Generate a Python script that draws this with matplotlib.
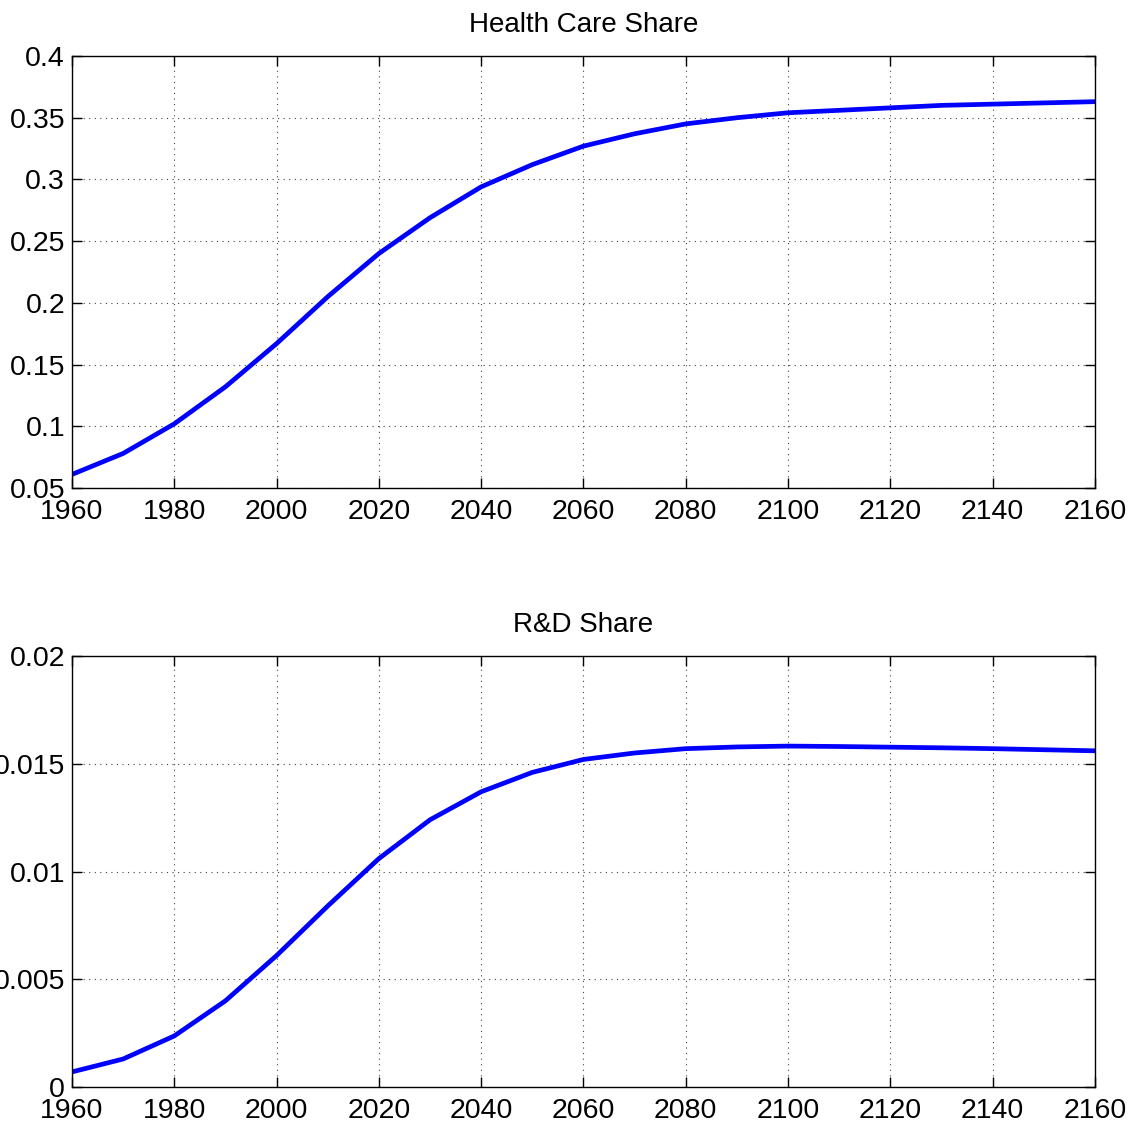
import numpy as np
import matplotlib.pyplot as plt

plt.rcParams['font.family'] = ['Liberation Sans', 'DejaVu Sans']

years = np.arange(1960, 2161, 10)
health_share = [0.061, 0.078, 0.102, 0.132, 0.167, 0.205, 0.240, 0.269, 0.294, 0.312,
                0.327, 0.337, 0.345, 0.350, 0.354, 0.356, 0.358, 0.360, 0.361, 0.362, 0.363]
rd_share = [0.0007, 0.0013, 0.00237, 0.0040, 0.0061, 0.0084, 0.0106, 0.0124, 0.0137, 0.0146,
            0.0152, 0.0155, 0.0157, 0.01578, 0.01582, 0.0158, 0.01577, 0.01574, 0.0157, 0.01565, 0.0156]

fig = plt.figure(figsize=(11.43, 11.26), dpi=100)
W, H = 1143, 1126
ax1 = fig.add_axes([72 / W, 1 - 488 / H, (1095 - 72) / W, (488 - 56) / H])
ax2 = fig.add_axes([72 / W, 1 - 1087 / H, (1095 - 72) / W, (1087 - 656) / H])


def style(ax, ylim, yticks, ylabels, title):
    ax.set_xlim(1960, 2160)
    ax.set_ylim(*ylim)
    ax.set_xticks(np.arange(1960, 2161, 20))
    ax.set_yticks(yticks)
    ax.set_yticklabels(ylabels)
    ax.tick_params(direction='in', top=True, right=True, length=7, width=1,
                   labelsize=20.5)
    ax.tick_params(axis='x', pad=8)
    ax.tick_params(axis='y', pad=5)
    ax.grid(True, linestyle=(0, (1, 4)), color='#444444', linewidth=0.8)
    for s in ax.spines.values():
        s.set_linewidth(1)
    ax.set_title(title, fontsize=20, pad=17)


ax1.plot(years, health_share, color='blue', linewidth=3.4)
style(ax1, (0.05, 0.4), np.arange(0.05, 0.401, 0.05),
      ['0.05', '0.1', '0.15', '0.2', '0.25', '0.3', '0.35', '0.4'], 'Health Care Share')

ax2.plot(years, rd_share, color='blue', linewidth=3.4)
style(ax2, (0, 0.02), np.arange(0, 0.0201, 0.005),
      ['0', '0.005', '0.01', '0.015', '0.02'], 'R&D Share')

fig.savefig('out.png', dpi=100)
